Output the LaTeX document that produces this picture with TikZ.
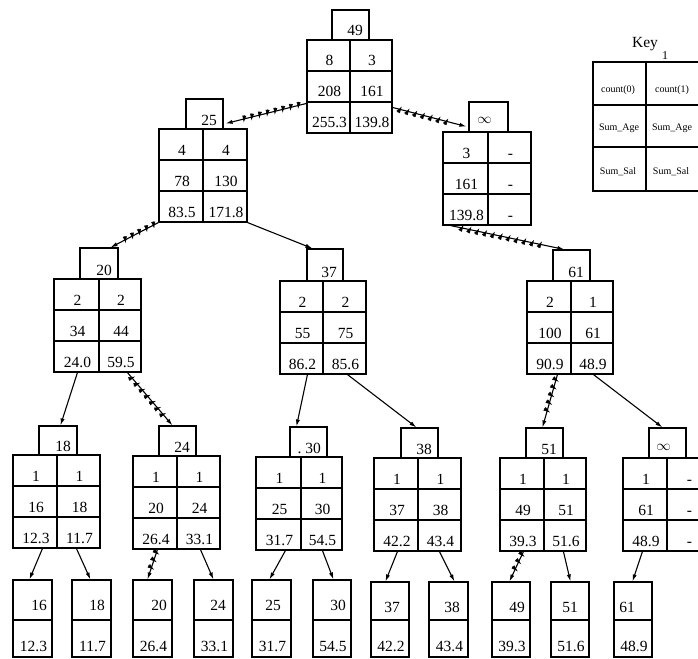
\documentclass[tikz,border=0pt]{standalone}
\usepackage{fontspec}
\setmainfont{Liberation Serif}
\usetikzlibrary{fit,calc,arrows.meta,decorations.markings}
\tikzset{
  box/.style={draw, line width=1.1pt, inner sep=0pt},
  grid/.style={line width=1.1pt},
  txt/.style={inner sep=0pt, anchor=base, font=\fontsize{15.5}{17}\selectfont},
  small/.style={inner sep=0pt, anchor=base, font=\fontsize{10}{11}\selectfont},
  conn/.style={line width=1.1pt, -{Latex[length=7pt,width=4.2pt]}},
  hatch/.style={conn, decoration={markings, mark=between positions 0.1 and 0.8 step 8pt with {\draw[line width=0.6pt] (-1.2pt,-3.5pt) -- (1.2pt,3.5pt);}}, postaction={decorate}}
}
\newcommand\keybox[6]{%
  \node[box, fit={(#2,#3)(#4,#5)}] (#1) {};
  \node[txt, anchor=base east] (#1t) at ({#4-6},{#5-4}) {#6};}
\newcommand\keyboxc[6]{%
  \node[box, fit={(#2,#3)(#4,#5)}] (#1) {};
  \node[txt] (#1t) at ({(#2+#4)/2-4},{#5-8}) {#6};}
\newcommand\tbl[6]{%
  \node[box, fit={(#2,#3)(#5,{#3+93})}] (#1) {};
  \draw[grid] (#4,#3) -- (#4,{#3+93});
  \draw[grid] (#2,{#3+31}) -- (#5,{#3+31});
  \draw[grid] (#2,{#3+62}) -- (#5,{#3+62});
  \foreach \l/\r [count=\i] in {#6}{
    \node[txt] (#1l\i) at ({(#2+#4)/2+1},{#3+31*\i-5}) {\l};
    \node[txt] (#1r\i) at ({(#4+#5)/2+1},{#3+31*\i-5}) {\r};}}
\newcommand\leaf[7]{%
  \node[box, fit={(#2,#4)(#3,657)}] (#1) {};
  \draw[grid] (#2,620) -- (#3,620);
  \node[txt] (#1a) at (#7,{#4+30}) {#5};
  \node[txt] (#1b) at ({(#2+#3)/2+1},651) {#6};}
\begin{document}
\begin{tikzpicture}[x=1pt,y=-1pt]
\useasboundingbox (0,0) rectangle (698,658);
\clip (0,0) rectangle (698,658);
% level 0
\keybox{K0}{332}{10}{369}{40}{49}
\tbl{T0}{307}{40}{350}{392}{8/3, 208/161, 255.3/139.8}
% level 1
\keybox{K25}{186}{99}{223}{129}{25}
\tbl{T25}{159}{129}{203}{247}{4/4, 78/130, 83.5/171.8}
\keyboxc{Kinf1}{469}{102}{508}{132}{$\infty$}
\tbl{Tinf1}{443}{132}{488}{531}{3/-, 161/-, 139.8/-}
% key
\node[inner sep=0pt, anchor=base, font=\fontsize{15.5}{17}\selectfont] (keyt) at (645,48) {Key};
\node[inner sep=0pt, anchor=base, font=\fontsize{12}{13}\selectfont] (keys) at (665,60) {1};
\node[box, fit={(593,62)(720,191)}] (KT) {};
\draw[grid] (646,62) -- (646,191);
\draw[grid] (593,105) -- (720,105);
\draw[grid] (593,147) -- (720,147);
\node[small] (kt1) at (618,93) {count(0)};
\node[small] (kt2) at (672,93) {count(1)};
\node[small] (kt3) at (619,130) {Sum\_Age};
\node[small] (kt4) at (672,130) {Sum\_Age};
\node[small] (kt5) at (618,174) {Sum\_Sal};
\node[small] (kt6) at (671,174) {Sum\_Sal};
% level 2
\keybox{K20}{80}{248}{118}{279}{20}
\tbl{T20}{54}{279}{99}{141}{2/2, 34/44, 24.0/59.5}
\keybox{K37}{307}{249}{343}{281}{37}
\tbl{T37}{280}{281}{323}{366}{2/2, 55/75, 86.2/85.6}
\keybox{K61}{553}{250}{590}{281}{61}
\tbl{T61}{527}{281}{571}{613}{2/1, 100/61, 90.9/48.9}
% level 3
\keybox{K18}{39}{426}{77}{455}{18}
\tbl{T18}{13}{455}{57}{100}{1/1, 16/18, 12.3/11.7}
\keybox{K24}{159}{426}{196}{456}{24}
\tbl{T24}{133}{456}{177}{220}{1/1, 20/24, 26.4/33.1}
\keybox{K30}{290}{427}{327}{457}{.\ 30}
\tbl{T30}{256}{457}{301}{342}{1/1, 25/30, 31.7/54.5}
\keybox{K38}{401}{428}{438}{458}{38}
\tbl{T38}{374}{458}{418}{461}{1/1, 37/38, 42.2/43.4}
\keybox{K51}{526}{428}{563}{458}{51}
\tbl{T51}{500}{458}{544}{586}{1/1, 49/51, 39.3/51.6}
\keyboxc{Kinf3}{649}{428}{686}{458}{$\infty$}
\tbl{Tinf3}{623}{458}{667}{710}{1/-, 61/-, 48.9/-}
% leaves
\leaf{L16}{13}{52}{580}{16}{12.3}{39}
\leaf{L18}{72}{111}{580}{18}{11.7}{97}
\leaf{L20}{133}{172}{580}{20}{26.4}{159}
\leaf{L24}{194}{233}{580}{24}{33.1}{218}
\leaf{L25}{252}{291}{580}{25}{31.7}{273}
\leaf{L30}{313}{351}{580}{30}{54.5}{338}
\leaf{L37}{371}{409}{582}{37}{42.2}{392}
\leaf{L38}{429}{468}{582}{38}{43.4}{452}
\leaf{L49}{492}{530}{582}{49}{39.3}{517}
\leaf{L51}{551}{589}{582}{51}{51.6}{570}
\leaf{L61}{614}{652}{582}{61}{48.9}{627}
% connectors
\draw[hatch] ($(T0.north west)+(0,64)$) -- ($(K25.south east)+(2,-6)$);
\draw[hatch] ($(T0.north east)+(0,68)$) -- ($(Kinf1.south west)+(-2,-6)$);
\draw[hatch] (T25.south west) -- ($(K20.north east)+(-8,0)$);
\draw[conn] (T25.south east) -- ($(K37.north west)+(6,0)$);
\draw[hatch] ($(Tinf1.south west)+(8,0)$) -- ($(K61.north west)+(12,0)$);
\draw[conn] ($(T20.south west)+(24,0)$) -- ($(K18.north west)+(22,0)$);
\draw[hatch] ($(T20.south west)+(74,0)$) -- ($(K24.north west)+(14,0)$);
\draw[conn] ($(T37.south west)+(28,0)$) -- ($(K30.north west)+(7,0)$);
\draw[conn] ($(T37.south west)+(68,0)$) -- ($(K38.north west)+(16,0)$);
\draw[hatch] ($(T61.south west)+(31,0)$) -- ($(K51.north west)+(17,0)$);
\draw[conn] ($(T61.south west)+(67,0)$) -- ($(Kinf3.north west)+(14,0)$);
\draw[conn] ($(T18.south west)+(30,0)$) -- ($(L16.north west)+(17,0)$);
\draw[conn] ($(T18.south west)+(64,0)$) -- ($(L18.north west)+(19,0)$);
\draw[hatch] ($(T24.south west)+(25,0)$) -- ($(L20.north west)+(15,0)$);
\draw[conn] ($(T24.south west)+(68,0)$) -- ($(L24.north west)+(20,0)$);
\draw[conn] ($(T30.south west)+(30,0)$) -- ($(L25.north west)+(18,0)$);
\draw[conn] ($(T30.south west)+(67,0)$) -- ($(L30.north west)+(21,0)$);
\draw[conn] ($(T38.south west)+(24,0)$) -- ($(L37.north west)+(15,0)$);
\draw[conn] ($(T38.south west)+(66,0)$) -- ($(L38.north west)+(26,0)$);
\draw[hatch] ($(T51.south west)+(24,0)$) -- ($(L49.north west)+(18,0)$);
\draw[conn] ($(T51.south west)+(64,0)$) -- ($(L51.north west)+(20,0)$);
\draw[conn] ($(Tinf3.south west)+(20,0)$) -- ($(L61.north west)+(19,0)$);
\end{tikzpicture}
\end{document}
